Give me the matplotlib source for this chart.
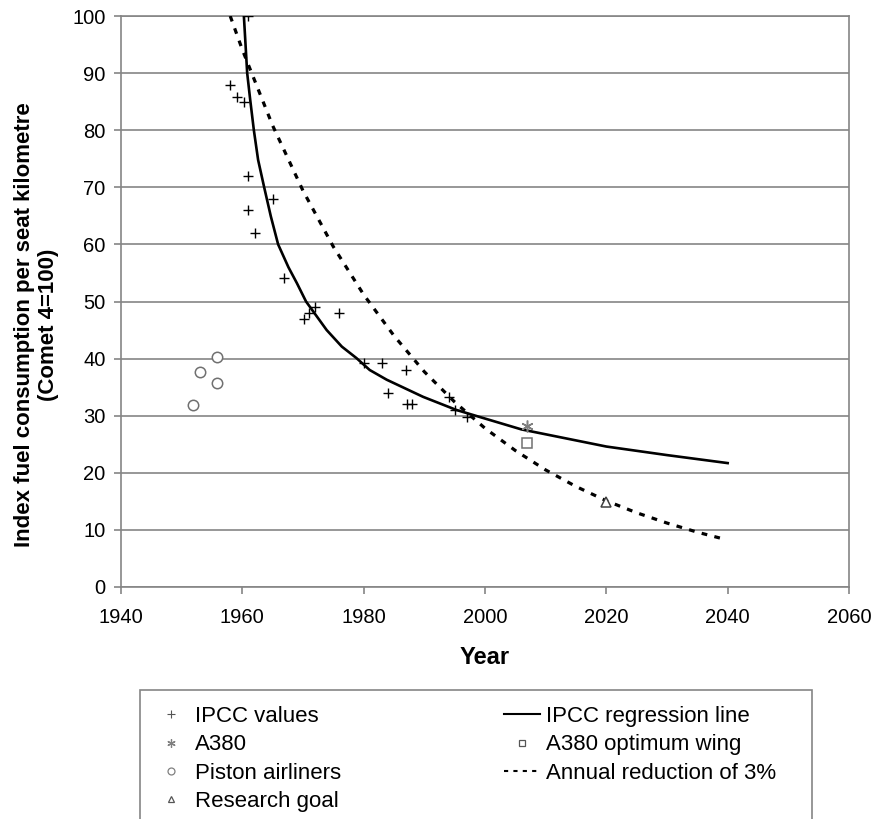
import matplotlib
matplotlib.use("Agg")
import matplotlib.pyplot as plt
from matplotlib.lines import Line2D
from matplotlib.patches import Rectangle

plt.rcParams["font.family"] = ["Liberation Sans", "DejaVu Sans"]

# IPCC data points (year, index)
ipcc_years = [1961.0, 1957.9, 1959.1, 1960.2, 1961.0, 1965.0, 1961.0, 1962.1, 1966.9,
              1972.0, 1970.1, 1971.0, 1976.0, 1980.0, 1983.0, 1987.0, 1984.0, 1987.1,
              1987.9, 1994.0, 1995.1, 1997.0]
ipcc_values = [100.0, 87.9, 85.9, 85.0, 72.0, 68.0, 66.0, 62.0, 54.1,
               49.1, 47.0, 48.0, 47.9, 39.2, 39.2, 38.0, 33.9, 32.0,
               32.0, 33.2, 31.0, 29.8]

# IPCC regression line
reg_years = [1960.2, 1960.8, 1961.3, 1961.9, 1962.6, 1963.6, 1964.7, 1965.9, 1967.6,
             1969.0, 1970.5, 1973.9, 1976.4, 1978.8, 1981.0, 1983.8, 1989.8, 1995.3,
             2000.0, 2006.0, 2020.0, 2030.0, 2040.0]
reg_values = [101.0, 90.0, 85.3, 80.0, 74.8, 70.0, 64.9, 60.0, 56.0,
              53.2, 50.0, 45.0, 42.1, 40.1, 38.0, 36.3, 33.3, 31.0,
              29.5, 27.6, 24.6, 23.1, 21.7]

# annual reduction of 3 %
red_years = [1958, 1960, 1965, 1970, 1975, 1980, 1985, 1990, 1995, 2000,
             2005, 2010, 2015, 2020, 2025, 2030, 2035, 2039]
red_values = [100.0, 94.1, 80.8, 69.4, 59.6, 51.2, 44.0, 37.7, 32.4, 27.8,
              23.9, 20.5, 17.6, 15.1, 13.0, 11.2, 9.6, 8.5]

piston_years = [1955.9, 1953.0, 1955.9, 1951.8]
piston_values = [40.3, 37.7, 35.8, 31.9]

a380_year, a380_value = [2007.0], [28.2]
a380_opt_year, a380_opt_value = [2007.0], [25.2]
goal_year, goal_value = [2020.0], [14.8]

x_ticks = [1940, 1960, 1980, 2000, 2020, 2040, 2060]
y_ticks = [0, 10, 20, 30, 40, 50, 60, 70, 80, 90, 100]

W, H = 874, 819
fig = plt.figure(figsize=(W / 100, H / 100), dpi=100)
ax = fig.add_axes([121 / W, 1 - 587 / H, 728 / W, 571 / H])

grey = "#858585"
star = (6, 2, 0)

ax.plot(red_years, red_values, color="black", lw=2.3, ls=(0, (1.8, 2.3)), zorder=3)
ax.plot(reg_years, reg_values, color="black", lw=1.9, zorder=3)
ax.plot(ipcc_years, ipcc_values, ls="none", marker="+", ms=7.5, mew=1.0, color="black", zorder=4)
ax.plot(piston_years, piston_values, ls="none", marker="o", ms=7.5, mfc="white", mec="#707070", mew=1.1, zorder=4)
ax.plot(a380_year, a380_value, ls="none", marker=star, ms=8.5, mec="#808080", mew=1.1, zorder=4)
ax.plot(a380_opt_year, a380_opt_value, ls="none", marker="s", ms=7.5, mfc="white", mec="#707070", mew=1.1, zorder=4)
ax.plot(goal_year, goal_value, ls="none", marker="^", ms=7.5, mfc="white", mec="#404040", mew=1.1, zorder=4)

ax.set_xlim(1940, 2060)
ax.set_ylim(0, 100)
ax.set_xticks(x_ticks)
ax.set_yticks(y_ticks)
ax.grid(axis="y", color=grey, lw=1.2)
ax.set_axisbelow(True)
for s in ax.spines.values():
    s.set_color(grey)
    s.set_linewidth(1.2)
ax.tick_params(axis="both", direction="out", length=5, width=1.2, color=grey,
               labelsize=14.5)
ax.tick_params(axis="x", pad=10)
ax.tick_params(axis="y", pad=6)

ax.set_xlabel("Year", fontsize=17, fontweight="bold", labelpad=14)
ax.set_ylabel("Index fuel consumption per seat kilometre\n(Comet 4=100)",
              fontsize=16, fontweight="bold", linespacing=1.2)
ax.yaxis.set_label_coords(-0.085, 0.46)

handles = [
    Line2D([], [], ls="none", marker="+", ms=6, mew=0.8, color="#555555"),
    Line2D([], [], ls="none", marker=star, ms=6, mec="#808080", mew=0.9),
    Line2D([], [], ls="none", marker="o", ms=5, mfc="white", mec="#808080", mew=0.9),
    Line2D([], [], ls="none", marker="^", ms=5, mfc="white", mec="#555555", mew=0.9),
    Line2D([], [], color="black", lw=1.5),
    Line2D([], [], ls="none", marker="s", ms=5, mfc="white", mec="#555555", mew=0.9),
    Line2D([], [], color="black", lw=1.5, ls=(0, (2, 2.5))),
]
labels = ["IPCC values", "A380", "Piston airliners", "Research goal",
          "IPCC regression line", "A380 optimum wing", "Annual reduction of 3%"]
fig.legend(handles, labels, ncol=2, loc="upper left",
           bbox_to_anchor=(153 / W, 1 - 706 / H), frameon=False,
           fontsize=16, handlelength=1.65, handletextpad=0.25,
           labelspacing=0.33, columnspacing=7.3, borderpad=0.0, borderaxespad=0)
fig.patches.append(Rectangle((140 / W, 1 - 825 / H), 672 / W, 135 / H,
                             transform=fig.transFigure, fill=False,
                             edgecolor=grey, lw=1.2))

fig.savefig("out.png", dpi=100)
